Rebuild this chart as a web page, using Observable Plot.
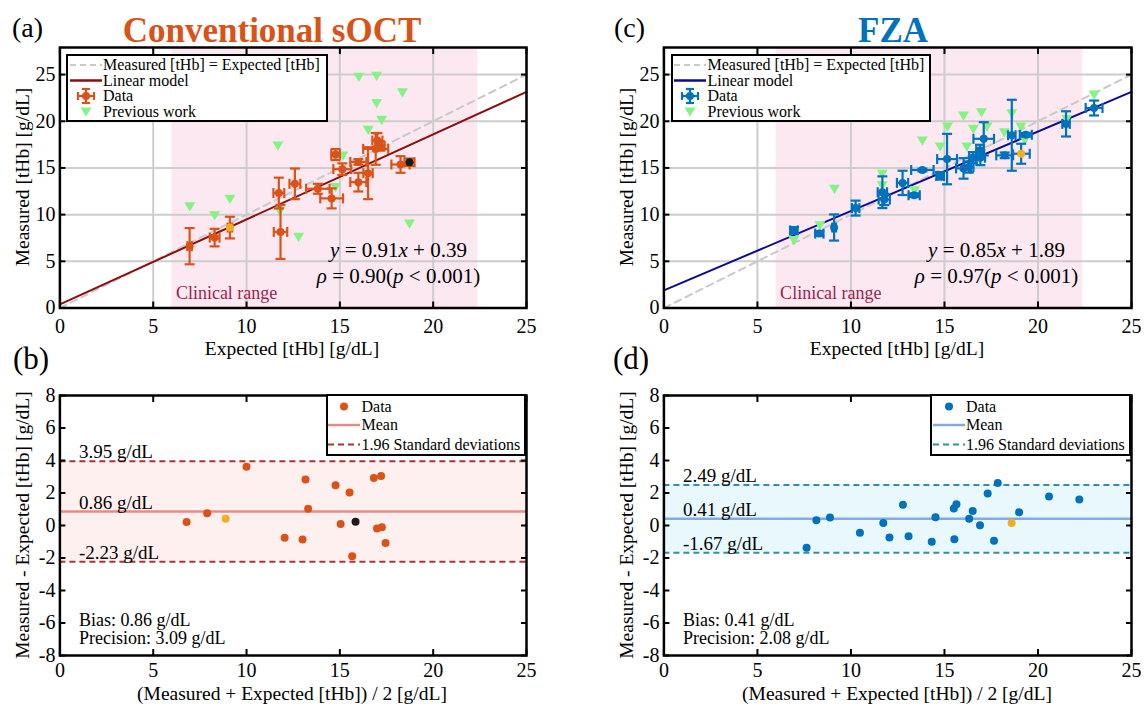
<!DOCTYPE html>
<html><head><meta charset="utf-8">
<script src="https://cdn.jsdelivr.net/npm/d3@7"></script>
<script src="https://cdn.jsdelivr.net/npm/@observablehq/plot@0.6"></script>
<style>
body{margin:0;background:#fff;}
#root{position:relative;width:1144px;height:705px;overflow:hidden;font-family:"Liberation Serif","Times New Roman",serif;color:#000;background:#fff;}
.panel{position:absolute;}
#overlay{position:absolute;left:0;top:0;pointer-events:none;}
</style></head><body><div id="root"></div>
<script>
// ---------- shared ----------
const axisTicks = [0, 5, 10, 15, 20, 25];
const baTicks = [-8, -6, -4, -2, 0, 2, 4, 6, 8];
const clinicalRange = [6, 22.4];
const identityLine = [0, 25];

// ---------- (a) Conventional sOCT ----------
const sOctExpected    = [6.95, 8.29, 9.11, 11.73, 11.82, 12.59, 13.82, 14.56, 14.77, 15.13, 15.99, 15.99, 16.51, 16.92, 17.01, 17.15, 18.25, 18.73];
const sOctMeasured    = [6.62, 7.54, 8.61, 12.31, 8.15, 13.30, 12.77, 11.74, 16.43, 14.87, 15.65, 13.48, 14.44, 17.04, 17.93, 17.35, 15.37, 15.61];
const sOctExpectedErr = [0.12, 0.26, 0.12, 0.29, 0.36, 0.29, 0.63, 0.61, 0.23, 0.48, 0.43, 0.43, 0.25, 0.67, 0.27, 0.25, 0.49, 0.27];
const sOctMeasuredErr = [1.94, 0.94, 1.16, 1.65, 2.90, 1.64, 0.53, 1.07, 0.59, 0.62, 0.30, 1.00, 2.78, 1.70, 0.80, 0.50, 0.89, 0.40];
const sOctKind = ["d","d","y","d","d","d","d","d","d","d","d","d","d","d","d","d","d","k"];
const sOctPrevExpected = [6.96, 8.29, 9.11, 11.68, 11.78, 12.79, 14.77, 15.16, 16.02, 16.97, 18.35, 16.97, 17.24, 16.52, 18.73];
const sOctPrevMeasured = [10.89, 9.93, 11.70, 17.40, 10.39, 7.61, 12.95, 16.33, 24.76, 24.87, 23.09, 21.95, 20.14, 19.07, 9.04];
const sOctFit = [0.91, 0.39];
const sOctRho = 0.90;

// ---------- (b) sOCT Bland-Altman ----------
const sOctBAMean = [6.79, 7.89, 8.88, 10.00, 12.04, 13.16, 13.30, 13.00, 14.77, 15.04, 15.52, 15.84, 15.66, 16.82, 17.21, 16.99, 17.25, 17.45];
const sOctBADiff = [0.21, 0.76, 0.41, 3.61, -0.76, 2.83, 1.03, -0.86, 2.48, 0.10, 2.03, 0.23, -1.89, 2.93, 3.05, -0.18, -0.10, -1.07];
const sOctBAKind = ["d","d","y","d","d","d","d","d","d","d","d","k","d","d","d","d","d","d"];
const sOctLimits = [3.95, 0.86, -2.23];
const sOctPrecision = 3.09;

// ---------- (c) FZA ----------
const fzaExpected    = [6.95, 8.31, 9.10, 10.25, 11.78, 11.68, 13.38, 12.76, 13.82, 14.77, 16.02, 16.30, 15.14, 16.52, 16.92, 16.90, 18.22, 17.10, 19.10, 18.60, 19.35, 21.50, 23.00];
const fzaMeasured    = [8.31, 7.97, 8.62, 10.70, 11.62, 12.40, 12.08, 13.40, 14.78, 14.15, 14.95, 15.10, 15.95, 16.10, 16.10, 16.88, 16.35, 18.12, 16.52, 18.50, 18.55, 19.72, 21.42];
const fzaExpectedErr = [0.20, 0.22, 0.10, 0.20, 0.30, 0.25, 0.30, 0.30, 0.60, 0.20, 0.40, 0.25, 0.53, 0.20, 0.25, 0.20, 0.45, 0.55, 0.46, 0.20, 0.32, 0.20, 0.45];
const fzaMeasuredErr = [0.35, 0.25, 1.40, 0.80, 0.60, 1.70, 0.20, 1.30, 0.15, 0.40, 1.10, 0.60, 2.70, 0.60, 0.80, 0.60, 0.30, 1.78, 1.07, 3.80, 0.20, 1.35, 0.80];
const fzaKind = ["d","d","d","d","d","d","d","d","d","d","d","d","d","d","d","d","d","d","y","d","d","d","d"];
const fzaPrevExpected = [6.95, 8.34, 9.12, 11.67, 11.67, 13.40, 13.82, 14.77, 15.16, 16.02, 16.55, 16.98, 17.27, 16.20, 18.20, 18.60, 19.09, 19.30, 21.53, 23.00];
const fzaPrevMeasured = [7.26, 8.86, 12.77, 14.37, 13.13, 12.60, 17.93, 17.29, 19.42, 20.60, 19.18, 20.95, 19.42, 17.29, 18.82, 20.85, 19.42, 18.00, 20.24, 22.85];
const fzaFit = [0.85, 1.89];
const fzaRho = 0.97;

// ---------- (d) FZA Bland-Altman ----------
const fzaBAMean = [7.63, 8.15, 8.88, 10.48, 11.73, 12.06, 12.78, 13.08, 14.32, 14.52, 15.50, 15.64, 15.53, 16.32, 16.51, 16.90, 17.31, 17.65, 17.85, 18.59, 18.99, 20.59, 22.21];
const fzaBADiff = [-1.37, 0.33, 0.49, -0.45, 0.16, -0.74, 1.27, -0.66, -1.00, 0.51, 1.05, 1.31, -0.84, 0.41, 0.90, 0.02, 1.97, -0.94, 2.61, 0.16, 0.82, 1.79, 1.60];
const fzaBAKind = ["d","d","d","d","d","d","d","d","d","d","d","d","d","d","d","d","d","d","d","y","d","d","d"];
const fzaLimits = [2.49, 0.41, -1.67];
const fzaPrecision = 2.08;

// ---------- styles ----------
const FONT = "Liberation Serif, Times New Roman, serif";
const ORANGE = "#D95319", BLUE = "#0072BD", YELLOW = "#EDB120", BLACK = "#1a1a1a";
const PREV = "#84f284", PINK = "#fce8f0", GRID = "#cdcdcd", IDENT = "#c9c9c9";

function makeCap(vertical) {
  return {draw(ctx, size) {
    const r = Math.sqrt(size / Math.PI);
    if (vertical) { ctx.moveTo(0, -r); ctx.lineTo(0, r); } else { ctx.moveTo(-r, 0); ctx.lineTo(r, 0); }
  }};
}
const hCap = makeCap(false), vCap = makeCap(true);
const triDown = {draw(ctx, size) {
  const r = Math.sqrt(size / Math.PI);
  ctx.moveTo(-r, -0.75 * r); ctx.lineTo(r, -0.75 * r); ctx.lineTo(0, 0.95 * r); ctx.closePath();
}};

function axes(xt, yt, xPad) {
  const fmt = d => String(d);
  return [
    Plot.axisX(xt, {anchor: "bottom", tickSize: -6, tickPadding: xPad, fontSize: 20, fontFamily: FONT, strokeWidth: 2, label: null, tickFormat: fmt}),
    Plot.axisX(xt, {anchor: "top", tickSize: -6, tickFormat: () => "", strokeWidth: 2, label: null}),
    Plot.axisY(yt, {anchor: "left", tickSize: -6, tickPadding: 10.5, fontSize: 20, fontFamily: FONT, strokeWidth: 2, label: null, tickFormat: fmt}),
    Plot.axisY(yt, {anchor: "right", tickSize: -6, tickFormat: () => "", strokeWidth: 2, label: null}),
    Plot.frame({stroke: "#000", strokeWidth: 2.5})
  ];
}

function mathify(svg) {
  d3.select(svg).selectAll("g.eq text").each(function() {
    const s = this.textContent;
    const sel = d3.select(this);
    sel.text(null);
    for (const part of s.match(/[a-zρ]+|[^a-zρ]+/g)) {
      const t = sel.append("tspan").text(part);
      if (/[a-zρ]/.test(part)) t.attr("font-style", "italic");
    }
  });
}

function scatterPanel(o) {
  const data = o.expected.map((e, i) => ({e, m: o.measured[i], xe: o.xErr[i], ye: o.yErr[i], kind: o.kind[i]}));
  const prev = o.prevX.map((x, i) => ({x, y: o.prevY[i]}));
  const ident = identityLine.map(v => ({x: v, y: v}));
  const fit = identityLine.map(v => ({x: v, y: o.fit[0] * v + o.fit[1]}));
  const markFill = {d: o.color, y: YELLOW, k: BLACK};
  const eq1 = `y = ${o.fit[0].toFixed(2)}x + ${o.fit[1].toFixed(2)}`;
  const eq2 = `ρ = ${o.rho.toFixed(2)}(p < 0.001)`;
  const svg = Plot.plot({
    width: 572, height: 352, marginTop: 47, marginBottom: 44.5, marginLeft: o.ml, marginRight: o.mr,
    style: {fontFamily: FONT, overflow: "visible", background: "transparent"},
    x: {domain: [0, 25]}, y: {domain: [0, 27.9]},
    marks: [
      Plot.rect([clinicalRange], {x1: d => d[0], x2: d => d[1], fill: PINK}),
      Plot.gridX(axisTicks, {stroke: GRID, strokeOpacity: 1, strokeWidth: 2}),
      Plot.gridY(axisTicks, {stroke: GRID, strokeOpacity: 1, strokeWidth: 2}),
      Plot.text([clinicalRange[0]], {x: d => d, text: () => "Clinical range", frameAnchor: "bottom", textAnchor: "start", lineAnchor: "middle", dx: 4, dy: -15, fontSize: 18, fontFamily: FONT, fill: "#9a1f52"}),
      Plot.line(ident, {x: "x", y: "y", stroke: IDENT, strokeWidth: 2, strokeDasharray: "7,5"}),
      Plot.line(fit, {x: "x", y: "y", stroke: o.fitColor, strokeWidth: 2}),
      Plot.dot(prev, {x: "x", y: "y", symbol: triDown, r: 5.5, fill: PREV, stroke: "none"}),
      Plot.ruleX(data, {x: "e", y1: d => d.m - d.ye, y2: d => d.m + d.ye, stroke: o.color, strokeWidth: 2.2}),
      Plot.ruleY(data, {y: "m", x1: d => d.e - d.xe, x2: d => d.e + d.xe, stroke: o.color, strokeWidth: 2.2}),
      Plot.dot(data, {x: "e", y: d => d.m - d.ye, symbol: hCap, r: 5, stroke: o.color, strokeWidth: 2.2, fill: "none"}),
      Plot.dot(data, {x: "e", y: d => d.m + d.ye, symbol: hCap, r: 5, stroke: o.color, strokeWidth: 2.2, fill: "none"}),
      Plot.dot(data, {x: d => d.e - d.xe, y: "m", symbol: vCap, r: 5, stroke: o.color, strokeWidth: 2.2, fill: "none"}),
      Plot.dot(data, {x: d => d.e + d.xe, y: "m", symbol: vCap, r: 5, stroke: o.color, strokeWidth: 2.2, fill: "none"}),
      Plot.dot(data, {x: "e", y: "m", r: 4, fill: d => markFill[d.kind], stroke: "none"}),
      Plot.text([eq1], {text: d => d, frameAnchor: "bottom-right", dx: o.eqDx, dy: -58, textAnchor: "middle", lineAnchor: "middle", fontSize: 21, fontFamily: FONT, className: "eq"}),
      Plot.text([eq2], {text: d => d, frameAnchor: "bottom-right", dx: o.eqDx, dy: -32, textAnchor: "middle", lineAnchor: "middle", fontSize: 21, fontFamily: FONT, className: "eq"}),
      ...axes(axisTicks, axisTicks, 17)
    ]
  });
  mathify(svg);
  return svg;
}

function baPanel(o) {
  const pts = o.mean.map((x, i) => ({x, y: o.diff[i], kind: o.kind[i]}));
  const [upper, bias, lower] = o.limits;
  const markFill = {d: o.color, y: YELLOW, k: BLACK};
  return Plot.plot({
    width: 572, height: 353, marginTop: 43, marginBottom: 50, marginLeft: o.ml, marginRight: o.mr,
    style: {fontFamily: FONT, overflow: "visible", background: "transparent"},
    x: {domain: [0, 25]}, y: {domain: [-8, 8]},
    marks: [
      Plot.rect([o.limits], {y1: d => d[2], y2: d => d[0], fill: o.band}),
      Plot.ruleY([upper, lower], {stroke: o.limitColor, strokeWidth: 2, strokeDasharray: "6,4"}),
      Plot.ruleY([bias], {stroke: o.meanColor, strokeWidth: 2.5}),
      Plot.dot(pts, {x: "x", y: "y", r: 4, fill: d => markFill[d.kind], stroke: "none"}),
      Plot.text(o.limits, {y: d => d, text: d => `${d.toFixed(2)} g/dL`, frameAnchor: "left", dx: 19, dy: -3, textAnchor: "start", lineAnchor: "bottom", fontSize: 19, fontFamily: FONT}),
      Plot.text([`Bias: ${bias.toFixed(2)} g/dL`], {text: d => d, frameAnchor: "bottom-left", dx: 19, dy: -35, textAnchor: "start", lineAnchor: "middle", fontSize: 18, fontFamily: FONT}),
      Plot.text([`Precision: ${o.precision.toFixed(2)} g/dL`], {text: d => d, frameAnchor: "bottom-left", dx: 19, dy: -17, textAnchor: "start", lineAnchor: "middle", fontSize: 18, fontFamily: FONT}),
      ...axes(axisTicks, baTicks, 13)
    ]
  });
}

const root = document.getElementById("root");
function place(el, left, top) { const d = document.createElement("div"); d.className = "panel"; d.style.left = left + "px"; d.style.top = top + "px"; d.appendChild(el); root.appendChild(d); }

place(scatterPanel({expected: sOctExpected, measured: sOctMeasured, xErr: sOctExpectedErr, yErr: sOctMeasuredErr, kind: sOctKind,
  prevX: sOctPrevExpected, prevY: sOctPrevMeasured, fit: sOctFit, rho: sOctRho, color: ORANGE, fitColor: "#8e0c0c", ml: 59.4, mr: 46, eqDx: -128}), 0, 0);
place(scatterPanel({expected: fzaExpected, measured: fzaMeasured, xErr: fzaExpectedErr, yErr: fzaMeasuredErr, kind: fzaKind,
  prevX: fzaPrevExpected, prevY: fzaPrevMeasured, fit: fzaFit, rho: fzaRho, color: BLUE, fitColor: "#0c0c8c", ml: 91.4, mr: 13, eqDx: -135}), 572, 0);
place(baPanel({mean: sOctBAMean, diff: sOctBADiff, kind: sOctBAKind, limits: sOctLimits, precision: sOctPrecision, color: ORANGE,
  band: "#fff0f0", limitColor: "#a83434", meanColor: "#e88a8a", ml: 59.4, mr: 46}), 0, 352);
place(baPanel({mean: fzaBAMean, diff: fzaBADiff, kind: fzaBAKind, limits: fzaLimits, precision: fzaPrecision, color: BLUE,
  band: "#e9f8fd", limitColor: "#2f90a4", meanColor: "#86a8e3", ml: 91.4, mr: 13}), 572, 352);

// ---------- overlay: titles, axis labels, legends ----------
const ov = d3.select(root).append("svg").attr("id", "overlay").attr("width", 1144).attr("height", 705)
  .style("font-family", FONT);
function txt(x, y, s, opts = {}) {
  const t = ov.append("text").attr("x", x).attr("y", y).text(s).attr("font-size", opts.size || 20)
    .attr("text-anchor", opts.anchor || "start").attr("fill", opts.fill || "#000");
  if (opts.weight) t.attr("font-weight", opts.weight);
  if (opts.rotate) t.attr("transform", `rotate(-90 ${x} ${y})`);
  return t;
}
// panel letters and titles
txt(12, 37, "(a)", {size: 28});
txt(272, 42, "Conventional sOCT", {size: 35, anchor: "middle", weight: "bold", fill: ORANGE});
txt(614, 37, "(c)", {size: 28});
txt(893, 42, "FZA", {size: 35, anchor: "middle", weight: "bold", fill: BLUE});
txt(13, 369, "(b)", {size: 31});
txt(613, 369, "(d)", {size: 31});
// axis labels
txt(292, 355, "Expected [tHb] [g/dL]", {size: 19.5, anchor: "middle"});
txt(897, 355, "Expected [tHb] [g/dL]", {size: 19.5, anchor: "middle"});
txt(29, 177, "Measured [tHb] [g/dL]", {size: 19.5, anchor: "middle", rotate: true});
txt(633, 177, "Measured [tHb] [g/dL]", {size: 19.5, anchor: "middle", rotate: true});
txt(292, 700, "(Measured + Expected [tHb]) / 2 [g/dL]", {size: 19.5, anchor: "middle"});
txt(897, 700, "(Measured + Expected [tHb]) / 2 [g/dL]", {size: 19.5, anchor: "middle"});
txt(29, 525, "Measured - Expected [tHb] [g/dL]", {size: 19.5, anchor: "middle", rotate: true});
txt(633, 525, "Measured - Expected [tHb] [g/dL]", {size: 19.5, anchor: "middle", rotate: true});

// legends
function legendBox(x, y, w, h, rows, swX, txX, rowY) {
  const g = ov.append("g");
  g.append("rect").attr("x", x).attr("y", y).attr("width", w).attr("height", h).attr("fill", "#fff").attr("stroke", "#000").attr("stroke-width", 2);
  rows.forEach((r, i) => {
    const cy = rowY[i];
    r.draw(g, swX, cy);
    g.append("text").attr("x", txX).attr("y", cy).attr("dy", "0.34em").attr("font-size", 16).text(r.label);
  });
}
const lineSw = (color, dash, width) => (g, cx, cy) => g.append("line").attr("x1", cx - 16).attr("x2", cx + 16).attr("y1", cy).attr("y2", cy)
  .attr("stroke", color).attr("stroke-width", width).attr("stroke-dasharray", dash || null);
const errSw = color => (g, cx, cy) => {
  const s = g.append("g").attr("stroke", color).attr("stroke-width", 2.2).attr("fill", "none");
  s.append("line").attr("x1", cx - 8).attr("x2", cx + 8).attr("y1", cy).attr("y2", cy);
  s.append("line").attr("x1", cx).attr("x2", cx).attr("y1", cy - 7).attr("y2", cy + 7);
  s.append("line").attr("x1", cx - 4).attr("x2", cx + 4).attr("y1", cy - 7).attr("y2", cy - 7);
  s.append("line").attr("x1", cx - 4).attr("x2", cx + 4).attr("y1", cy + 7).attr("y2", cy + 7);
  s.append("line").attr("x1", cx - 8).attr("x2", cx - 8).attr("y1", cy - 4).attr("y2", cy + 4);
  s.append("line").attr("x1", cx + 8).attr("x2", cx + 8).attr("y1", cy - 4).attr("y2", cy + 4);
  g.append("circle").attr("cx", cx).attr("cy", cy).attr("r", 4).attr("fill", color);
};
const triSw = (g, cx, cy) => g.append("path").attr("d", `M${cx - 5.5},${cy - 4}L${cx + 5.5},${cy - 4}L${cx},${cy + 5}Z`).attr("fill", PREV);
const dotSw = color => (g, cx, cy) => g.append("circle").attr("cx", cx).attr("cy", cy).attr("r", 4).attr("fill", color);

legendBox(67, 55, 260, 66, [
  {label: "Measured [tHb] = Expected [tHb]", draw: lineSw(IDENT, "6,4", 2)},
  {label: "Linear model", draw: lineSw("#8e0c0c", null, 2.5)},
  {label: "Data", draw: errSw(ORANGE)},
  {label: "Previous work", draw: triSw}
], 86, 103, [65, 80.5, 96, 111.5]);
legendBox(672, 55, 258, 66, [
  {label: "Measured [tHb] = Expected [tHb]", draw: lineSw(IDENT, "6,4", 2)},
  {label: "Linear model", draw: lineSw("#0c0c8c", null, 2.5)},
  {label: "Data", draw: errSw(BLUE)},
  {label: "Previous work", draw: triSw}
], 690, 707.5, [65, 80.5, 96, 111.5]);
legendBox(327, 395, 198, 60, [
  {label: "Data", draw: dotSw(ORANGE)},
  {label: "Mean", draw: lineSw("#e88a8a", null, 2.5)},
  {label: "1.96 Standard deviations", draw: lineSw("#a83434", "6,4", 2)}
], 344, 361.5, [406.5, 425, 444.5]);
legendBox(931, 395, 199, 60, [
  {label: "Data", draw: dotSw(BLUE)},
  {label: "Mean", draw: lineSw("#86a8e3", null, 2.5)},
  {label: "1.96 Standard deviations", draw: lineSw("#2f90a4", "6,4", 2)}
], 949, 966, [406.5, 425, 444.5]);
</script></body></html>
